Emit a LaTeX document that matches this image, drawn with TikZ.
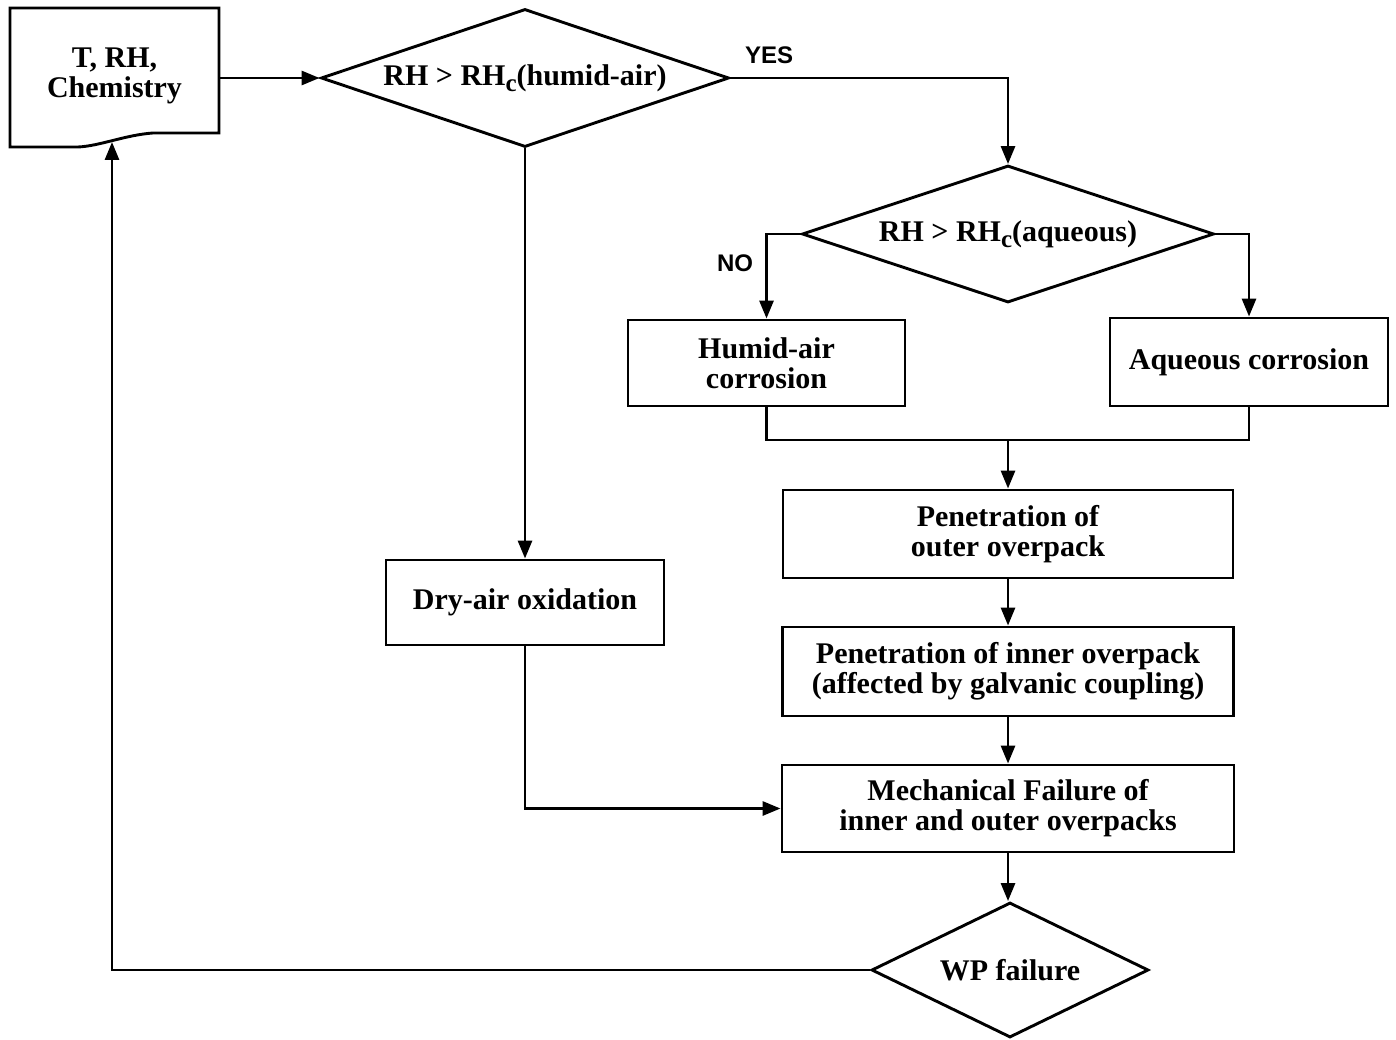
\documentclass[tikz,border=0pt]{standalone}
\usepackage{fontspec}
\setmainfont{Liberation Serif}
\newfontfamily\labfont{Liberation Sans}
\usetikzlibrary{shapes.geometric,arrows.meta}
\newcommand{\subc}{\raisebox{-0.45ex}{\fontsize{25}{25}\selectfont c}}
\begin{document}
\begin{tikzpicture}[x=1pt,y=-1pt,
  every node/.style={font=\fontsize{30}{30}\selectfont\bfseries, align=center, inner sep=0pt},
  conn/.style={line width=2.9pt},
  arr/.style={conn, -{Triangle[length=18pt,width=14pt]}},
  boxnode/.style={draw, rectangle, line width=2.9pt},
  dia/.style={draw, diamond, shape aspect=3, line width=2.9pt},
  lab/.style={font=\fontsize{24}{24}\selectfont\labfont\bfseries}]
\useasboundingbox (0,0) rectangle (1396,1040);

% input document shape
\node (trh) [minimum width=209, minimum height=139] at (114.5,76) {T, RH,\\Chemistry};
\draw[conn] (10,8) -- (219,8) -- (219,133) -- (153,133) .. controls (125,135) and (100,146) .. (78,147) -- (10,147) -- cycle;
\coordinate (trhin) at (112,142);

% decisions
\node[dia, minimum width=408, minimum height=138] (d1) at (525,78) {RH > RH\subc(humid-air)};
\node[dia, minimum width=412, minimum height=137] (d2) at (1008,234) {RH > RH\subc(aqueous)};
\node[dia, minimum width=277, minimum height=135, shape aspect=2] (wp) at (1010,970) {WP failure};

% boxes
\node[boxnode, minimum width=277, minimum height=86] (humid) at (766.5,363) {Humid-air\\corrosion};
\node[boxnode, minimum width=278, minimum height=88] (aq) at (1249,362) {Aqueous corrosion};
\node[boxnode, minimum width=450, minimum height=88] (pen1) at (1008,534) {Penetration of\\outer overpack};
\node[boxnode, minimum width=451, minimum height=89] (pen2) at (1008,671.5) {Penetration of inner overpack\\(affected by galvanic coupling)};
\node[boxnode, minimum width=452, minimum height=87] (mech) at (1008,808.5) {Mechanical Failure of\\inner and outer overpacks};
\node[boxnode, minimum width=278, minimum height=85] (dry) at (525,602.5) {Dry-air oxidation};

\coordinate (merge) at (1008,440);

% labels
\node[lab] (yes) at (769,55) {YES};
\node[lab] (no) at (735,263) {NO};

% connectors
\draw[arr] (trh.east |- d1.west) -- (d1.west);
\draw[arr] (d1.east) -| (d2.north);
\draw[arr] (d2.west) -| (humid.north);
\draw[arr] (d2.east) -| (aq.north);
\draw[conn] (humid.south) -- (humid.south |- merge) -- (aq.south |- merge) -- (aq.south);
\draw[arr] (merge) -- (pen1.north);
\draw[arr] (pen1.south) -- (pen2.north);
\draw[arr] (pen2.south) -- (pen1.south |- mech.north);
\draw[arr] (mech.south) -- (mech.south |- wp.north);
\draw[arr] (d1.south) -- (dry.north);
\draw[arr] (dry.south) |- (mech.west);
\draw[arr] (wp.west) -| (trhin);
\end{tikzpicture}
\end{document}
